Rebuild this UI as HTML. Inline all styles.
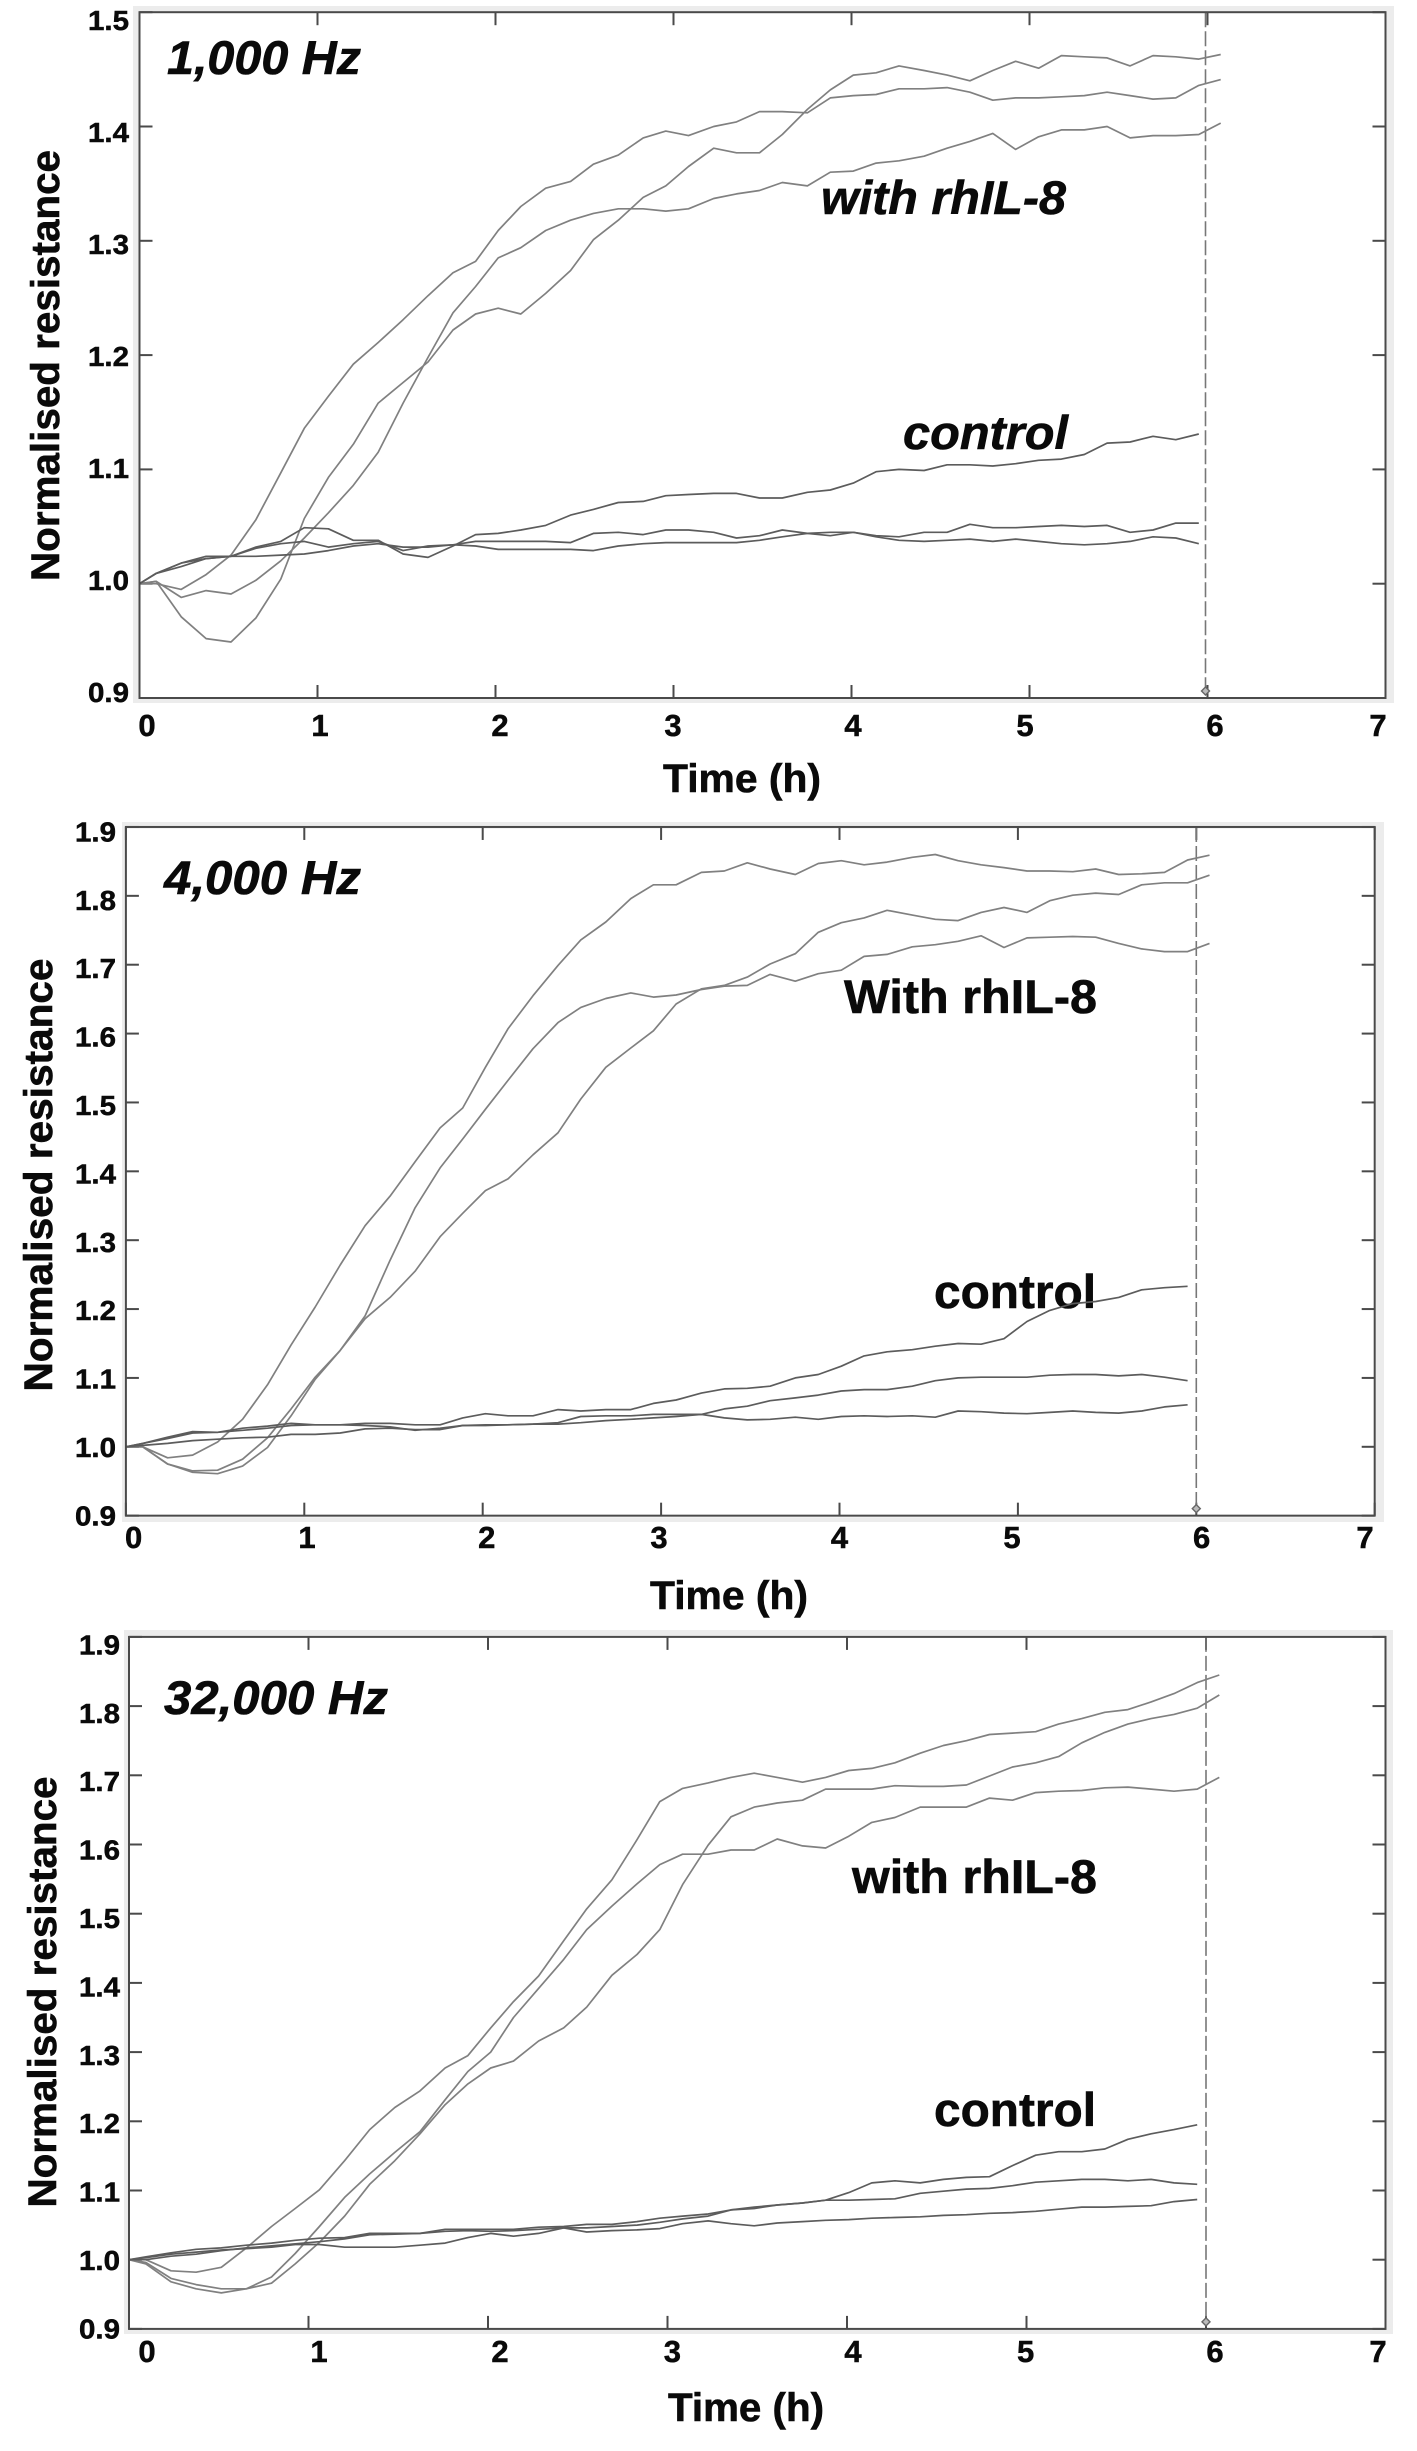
<!DOCTYPE html>
<html lang="en">
<head>
<meta charset="utf-8">
<title>Normalised resistance over time at three frequencies</title>
<style>
html,body{margin:0;padding:0;background:#fff;}
svg{display:block;}
text{font-family:"Liberation Sans",sans-serif;font-weight:bold;fill:#0a0a0a;stroke:#0a0a0a;stroke-width:.6px;}
.note{font-size:47px;}
.it{font-style:italic;}
.axt{font-size:40px;}
.ylab{font-size:28px;stroke-width:.5px;}
.xlab{font-size:31px;stroke-width:.5px;}
</style>
</head>
<body>
<svg id="figure" xmlns="http://www.w3.org/2000/svg" width="1417" height="2451" viewBox="0 0 1417 2451">
  <rect x="0" y="0" width="1417" height="2451" fill="#fff"/>

  <g id="panel-1">
    <rect x="133" y="6" width="1261" height="697" fill="#ececec"/>
    <rect x="139.5" y="12" width="1245.5" height="686" fill="#fff"/>
    <text class="axt" transform="translate(59,365.5) rotate(-90)" text-anchor="middle" textLength="431" lengthAdjust="spacingAndGlyphs">Normalised resistance</text>
    <text class="axt" x="663" y="792" textLength="158" lengthAdjust="spacingAndGlyphs">Time (h)</text>
    <text class="note it" x="167" y="74" textLength="194" lengthAdjust="spacingAndGlyphs">1,000 Hz</text>
    <text class="note it" x="821" y="214" textLength="245" lengthAdjust="spacingAndGlyphs">with rhIL-8</text>
    <text class="note it" x="903" y="449" textLength="165" lengthAdjust="spacingAndGlyphs">control</text>
  </g>

  <g id="panel-2">
    <rect x="122" y="822" width="1262" height="700" fill="#ececec"/>
    <rect x="125.9" y="828.6" width="1250" height="688.7" fill="#fff"/>
    <text class="axt" transform="translate(52,1175) rotate(-90)" text-anchor="middle" textLength="433" lengthAdjust="spacingAndGlyphs">Normalised resistance</text>
    <text class="axt" x="650" y="1609" textLength="158" lengthAdjust="spacingAndGlyphs">Time (h)</text>
    <text class="note it" x="164" y="894" textLength="197" lengthAdjust="spacingAndGlyphs">4,000 Hz</text>
    <text class="note" x="844" y="1013" textLength="253" lengthAdjust="spacingAndGlyphs">With rhIL-8</text>
    <text class="note" x="934" y="1308" textLength="162" lengthAdjust="spacingAndGlyphs">control</text>
  </g>

  <g id="panel-3">
    <rect x="124" y="1630" width="1269" height="704" fill="#ececec"/>
    <rect x="129" y="1637" width="1257" height="692" fill="#fff"/>
    <text class="axt" transform="translate(56,1992) rotate(-90)" text-anchor="middle" textLength="431" lengthAdjust="spacingAndGlyphs">Normalised resistance</text>
    <text class="axt" x="668" y="2421" textLength="156" lengthAdjust="spacingAndGlyphs">Time (h)</text>
    <text class="note it" x="164" y="1714" textLength="224" lengthAdjust="spacingAndGlyphs">32,000 Hz</text>
    <text class="note" x="852" y="1893" textLength="245" lengthAdjust="spacingAndGlyphs">with rhIL-8</text>
    <text class="note" x="934" y="2126" textLength="162" lengthAdjust="spacingAndGlyphs">control</text>
  </g>
</svg>

<script>
// Shared sampling times (hours)
var times = [0,.094,.234,.374,.514,.654,.794,.926,1.061,1.201,1.341,1.481,1.621,1.761,1.888,2.015,2.142,2.282,2.422,2.55,2.69,2.83,2.957,3.084,3.226,3.354,3.483,3.611,3.752,3.881,4.01,4.138,4.267,4.408,4.537,4.665,4.794,4.922,5.051,5.179,5.308,5.436,5.565,5.694,5.822,5.951,6.074];

var xTickLabels = ['0','1','2','3','4','5','6','7'];
var yTicks1000 = ['0.9','1.0','1.1','1.2','1.3','1.4','1.5'];
var yTicks4000 = ['0.9','1.0','1.1','1.2','1.3','1.4','1.5','1.6','1.7','1.8','1.9'];
var yTicks32000 = ['0.9','1.0','1.1','1.2','1.3','1.4','1.5','1.6','1.7','1.8','1.9'];
var markerTime = [6];

// 1,000 Hz
var hz1000_il8_a = [1.000,1.000,.995,1.008,1.025,1.056,1.097,1.136,1.164,1.192,1.211,1.231,1.252,1.272,1.282,1.309,1.330,1.346,1.352,1.367,1.375,1.390,1.396,1.392,1.400,1.404,1.413,1.413,1.412,1.425,1.427,1.428,1.433,1.433,1.434,1.430,1.423,1.425,1.425,1.426,1.427,1.430,1.427,1.424,1.425,1.436,1.441];
var hz1000_il8_b = [1.000,1.002,.988,.994,.991,1.003,1.020,1.040,1.062,1.086,1.115,1.158,1.198,1.237,1.260,1.285,1.294,1.309,1.318,1.324,1.328,1.328,1.326,1.328,1.337,1.341,1.344,1.351,1.348,1.360,1.361,1.368,1.370,1.374,1.381,1.387,1.394,1.380,1.391,1.397,1.397,1.400,1.390,1.392,1.392,1.393,1.403];
var hz1000_il8_c = [1.000,1.002,.971,.952,.949,.970,1.004,1.057,1.093,1.122,1.158,1.176,1.194,1.222,1.236,1.241,1.236,1.254,1.274,1.301,1.318,1.338,1.348,1.365,1.381,1.377,1.377,1.393,1.415,1.432,1.445,1.447,1.453,1.449,1.445,1.440,1.449,1.457,1.451,1.462,1.461,1.460,1.453,1.462,1.461,1.459,1.463];
var hz1000_ctrl_a = [1.000,1.009,1.018,1.024,1.024,1.032,1.037,1.049,1.048,1.038,1.038,1.026,1.023,1.033,1.043,1.044,1.047,1.051,1.060,1.065,1.071,1.072,1.077,1.078,1.079,1.079,1.075,1.075,1.080,1.082,1.088,1.098,1.100,1.099,1.104,1.104,1.103,1.105,1.108,1.109,1.113,1.123,1.124,1.129,1.126,1.131];
var hz1000_ctrl_b = [1.000,1.009,1.015,1.022,1.024,1.031,1.035,1.037,1.032,1.035,1.037,1.029,1.033,1.034,1.037,1.037,1.037,1.037,1.036,1.044,1.045,1.043,1.047,1.047,1.045,1.040,1.042,1.047,1.044,1.042,1.045,1.042,1.041,1.045,1.045,1.052,1.049,1.049,1.050,1.051,1.050,1.051,1.045,1.047,1.053,1.053];
var hz1000_ctrl_c = [1.000,1.009,1.018,1.022,1.024,1.024,1.025,1.026,1.029,1.033,1.035,1.032,1.032,1.034,1.033,1.030,1.030,1.030,1.030,1.029,1.033,1.035,1.036,1.036,1.036,1.036,1.038,1.041,1.044,1.045,1.045,1.041,1.038,1.037,1.038,1.039,1.037,1.039,1.037,1.035,1.034,1.035,1.037,1.041,1.040,1.035];

// 4,000 Hz
var hz4000_il8_a = [1.000,1.000,.984,.988,1.007,1.040,1.090,1.148,1.203,1.264,1.321,1.364,1.414,1.463,1.492,1.551,1.607,1.655,1.699,1.736,1.762,1.796,1.816,1.816,1.834,1.836,1.848,1.839,1.831,1.847,1.851,1.845,1.849,1.856,1.860,1.851,1.845,1.841,1.836,1.836,1.835,1.839,1.831,1.832,1.834,1.852,1.859];
var hz4000_il8_b = [1.000,1.000,.975,.965,.966,.982,1.013,1.055,1.101,1.140,1.190,1.271,1.347,1.405,1.447,1.490,1.532,1.578,1.616,1.638,1.651,1.659,1.653,1.656,1.664,1.669,1.670,1.686,1.676,1.687,1.692,1.712,1.715,1.726,1.729,1.734,1.742,1.725,1.739,1.740,1.741,1.740,1.731,1.723,1.719,1.719,1.731];
var hz4000_il8_c = [1.000,1.000,.975,.963,.961,.972,.999,1.045,1.098,1.140,1.186,1.217,1.255,1.305,1.339,1.372,1.389,1.424,1.456,1.505,1.551,1.579,1.604,1.643,1.665,1.670,1.682,1.701,1.716,1.747,1.761,1.768,1.779,1.772,1.766,1.764,1.776,1.783,1.776,1.793,1.801,1.804,1.802,1.816,1.819,1.819,1.830];
var hz4000_ctrl_a = [1.000,1.005,1.014,1.022,1.021,1.027,1.030,1.034,1.032,1.032,1.034,1.034,1.032,1.032,1.042,1.048,1.045,1.045,1.054,1.052,1.054,1.054,1.063,1.068,1.078,1.084,1.085,1.088,1.100,1.105,1.117,1.132,1.138,1.141,1.146,1.150,1.149,1.157,1.182,1.198,1.208,1.211,1.217,1.228,1.231,1.233];
var hz4000_ctrl_b = [1.000,1.005,1.012,1.020,1.021,1.024,1.027,1.031,1.032,1.032,1.031,1.029,1.024,1.027,1.031,1.032,1.032,1.033,1.035,1.044,1.045,1.045,1.047,1.047,1.047,1.055,1.059,1.067,1.071,1.075,1.081,1.083,1.083,1.088,1.096,1.100,1.101,1.101,1.101,1.104,1.105,1.105,1.103,1.105,1.101,1.096];
var hz4000_ctrl_c = [1.000,1.002,1.005,1.009,1.011,1.013,1.014,1.018,1.018,1.020,1.026,1.027,1.025,1.025,1.031,1.031,1.032,1.033,1.033,1.035,1.038,1.040,1.042,1.044,1.047,1.042,1.039,1.040,1.043,1.040,1.044,1.045,1.044,1.045,1.043,1.052,1.051,1.049,1.048,1.050,1.052,1.050,1.049,1.052,1.058,1.061];

// 32,000 Hz
var hz32000_il8_a = [1.000,1.000,.984,.982,.989,1.017,1.048,1.074,1.101,1.143,1.188,1.220,1.244,1.277,1.295,1.335,1.373,1.410,1.461,1.507,1.549,1.607,1.662,1.681,1.689,1.697,1.703,1.697,1.690,1.697,1.707,1.710,1.718,1.732,1.743,1.750,1.759,1.761,1.763,1.774,1.782,1.791,1.795,1.806,1.818,1.834,1.845];
var hz32000_il8_b = [1.000,.996,.973,.964,.958,.958,.975,1.009,1.048,1.090,1.124,1.155,1.185,1.231,1.272,1.300,1.350,1.392,1.434,1.477,1.511,1.543,1.571,1.586,1.586,1.592,1.592,1.608,1.598,1.595,1.612,1.632,1.639,1.654,1.654,1.654,1.667,1.664,1.675,1.677,1.678,1.682,1.683,1.680,1.677,1.680,1.697];
var hz32000_il8_c = [1.000,.994,.968,.958,.952,.958,.966,.994,1.025,1.063,1.109,1.143,1.182,1.224,1.254,1.277,1.287,1.316,1.335,1.365,1.411,1.441,1.477,1.542,1.599,1.640,1.654,1.660,1.664,1.680,1.680,1.680,1.685,1.684,1.684,1.686,1.699,1.712,1.718,1.727,1.747,1.762,1.774,1.782,1.788,1.797,1.816];
var hz32000_ctrl_a = [1.000,1.004,1.010,1.015,1.017,1.021,1.024,1.028,1.031,1.032,1.038,1.038,1.038,1.044,1.044,1.044,1.044,1.047,1.048,1.051,1.051,1.055,1.060,1.063,1.066,1.072,1.076,1.079,1.082,1.086,1.097,1.111,1.114,1.111,1.116,1.119,1.120,1.136,1.151,1.156,1.156,1.160,1.174,1.182,1.188,1.195];
var hz32000_ctrl_b = [1.000,1.000,1.005,1.008,1.013,1.017,1.020,1.023,1.026,1.030,1.036,1.037,1.038,1.041,1.042,1.041,1.042,1.044,1.046,1.046,1.048,1.050,1.054,1.059,1.063,1.072,1.074,1.079,1.082,1.086,1.086,1.087,1.088,1.096,1.099,1.102,1.103,1.107,1.112,1.114,1.116,1.116,1.114,1.116,1.111,1.109];
var hz32000_ctrl_c = [1.000,1.003,1.008,1.011,1.014,1.016,1.018,1.022,1.022,1.018,1.018,1.018,1.021,1.024,1.032,1.038,1.034,1.038,1.046,1.040,1.042,1.043,1.045,1.052,1.056,1.052,1.049,1.053,1.055,1.057,1.058,1.060,1.061,1.062,1.064,1.065,1.067,1.068,1.070,1.073,1.076,1.076,1.077,1.078,1.084,1.087];

var NS = 'http://www.w3.org/2000/svg';

function make(parent, tag, attrs, txt) {
  var n = document.createElementNS(NS, tag);
  for (var k in attrs) { n.setAttribute(k, attrs[k]); }
  if (txt !== undefined) { n.textContent = txt; }
  parent.appendChild(n);
  return n;
}

function drawPanel(cfg) {
  var g = document.getElementById(cfg.id);
  var sx = function (t) { return cfg.x0 + t * cfg.hour; };
  var sy = function (v) { return cfg.y1 - (v - 1) / 0.1 * cfg.tenth; };
  var left = sx(0), right = sx(7), top = sy(cfg.vMax), bottom = sy(0.9);
  var axisStyle = { stroke: '#4a4a4a', 'stroke-width': 2, fill: 'none' };

  cfg.yTicks.forEach(function (lab) {
    var v = parseFloat(lab);
    var y = sy(v);
    var lt = make(g, 'line', Object.assign({ x1: left, x2: left + 13, y1: y, y2: y }, axisStyle));
    
    
    var rt = make(g, 'line', Object.assign({ x1: right - 13, x2: right, y1: y, y2: y }, axisStyle));
    
    
    var yl = cfg.labY0 + (1 - v) / 0.1 * cfg.labYStep;
    var tx = make(g, 'text', { x: cfg.labX, y: yl + 10, 'text-anchor': 'end', 'class': 'ylab', textLength: 41, lengthAdjust: 'spacingAndGlyphs' }, lab);
    
    
  });

  xTickLabels.forEach(function (lab, i) {
    var t = parseFloat(lab);
    var x = sx(t);
    var bt = make(g, 'line', Object.assign({ x1: x, x2: x, y1: bottom - 13, y2: bottom }, axisStyle));
    
    
    var tt = make(g, 'line', Object.assign({ x1: x, x2: x, y1: top, y2: top + 13 }, axisStyle));
    
    
    var tx = make(g, 'text', { x: cfg.xLabelX[i], y: cfg.labXY + 11, 'text-anchor': 'middle', 'class': 'xlab' }, lab);
    
    
  });

  var mx = sx(markerTime[0]) - cfg.markerShift;
  var dash = make(g, 'line', { x1: mx, x2: mx, y1: top, y2: bottom - 7, stroke: '#777', 'stroke-width': 1.6, 'stroke-dasharray': '15 4', fill: 'none' });
  
  
  var my = bottom - 7;
  var dia = make(g, 'polygon', { points: (mx - 4) + ',' + my + ' ' + mx + ',' + (my - 4) + ' ' + (mx + 4) + ',' + my + ' ' + mx + ',' + (my + 4), fill: '#bbb', stroke: '#666', 'stroke-width': 1.4 });
  
  

  cfg.il8.forEach(function (vals) {
    var d = vals.map(function (v, i) { return sx(times[i]).toFixed(1) + ',' + sy(v).toFixed(1); }).join(' ');
    var pl = make(g, 'polyline', { points: d, fill: 'none', stroke: '#808080', 'stroke-width': 1.7, 'stroke-linejoin': 'round' });
    
    
  });
  cfg.ctrl.forEach(function (vals) {
    var d = vals.map(function (v, i) { return sx(times[i]).toFixed(1) + ',' + sy(v).toFixed(1); }).join(' ');
    var pl = make(g, 'polyline', { points: d, fill: 'none', stroke: '#5c5c5c', 'stroke-width': 1.7, 'stroke-linejoin': 'round' });
    
    
  });

  var frame = make(g, 'rect', { x: left, y: top, width: right - left, height: bottom - top, fill: 'none', stroke: '#4a4a4a', 'stroke-width': 2 });
  
  
}

drawPanel({ id: 'panel-1', x0: 139.5, hour: 178, y1: 583.7, tenth: 114.3, vMax: 1.5,
  labX: 129, labY0: 580, labYStep: 112, xLabelX: [147, 320, 500, 673, 853, 1025, 1215, 1378], labXY: 725, markerShift: 2,
  yTicks: yTicks1000, il8: [hz1000_il8_a, hz1000_il8_b, hz1000_il8_c], ctrl: [hz1000_ctrl_a, hz1000_ctrl_b, hz1000_ctrl_c] });

drawPanel({ id: 'panel-2', x0: 125.9, hour: 178.4, y1: 1446.8, tenth: 68.87, vMax: 1.9,
  labX: 116, labY0: 1447, labYStep: 68.4, xLabelX: [133.6, 307, 486.8, 659, 839.5, 1012, 1201.6, 1365], labXY: 1537, markerShift: 0,
  yTicks: yTicks4000, il8: [hz4000_il8_a, hz4000_il8_b, hz4000_il8_c], ctrl: [hz4000_ctrl_a, hz4000_ctrl_b, hz4000_ctrl_c] });

drawPanel({ id: 'panel-3', x0: 129, hour: 179.5, y1: 2259.7, tenth: 69.2, vMax: 1.9,
  labX: 120, labY0: 2260, labYStep: 68.4, xLabelX: [147, 319, 500, 672.4, 853, 1025.6, 1215, 1378], labXY: 2351, markerShift: 0,
  yTicks: yTicks32000, il8: [hz32000_il8_a, hz32000_il8_b, hz32000_il8_c], ctrl: [hz32000_ctrl_a, hz32000_ctrl_b, hz32000_ctrl_c] });
</script>
</body>
</html>
